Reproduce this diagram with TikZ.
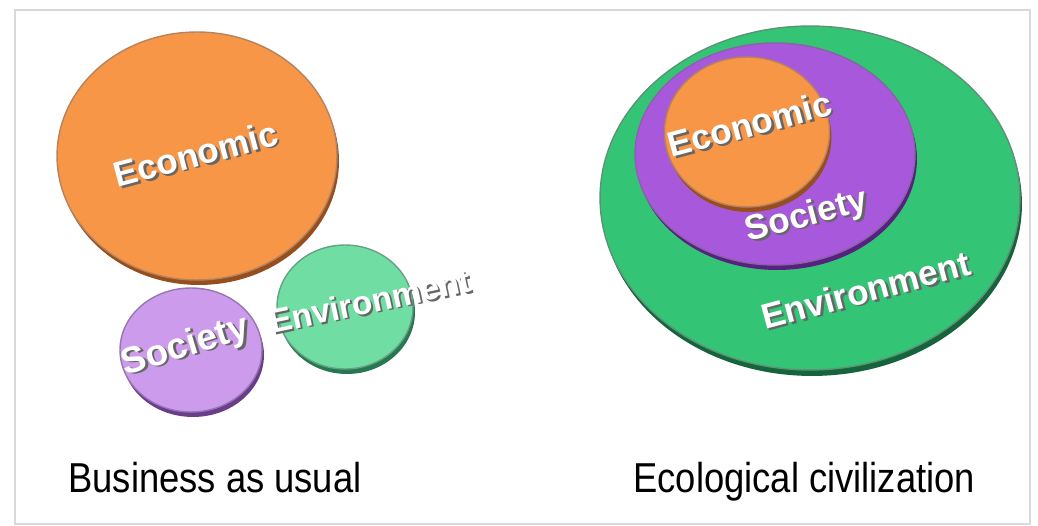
\documentclass[tikz,border=0pt]{standalone}
\usepackage{fontspec}
\setmainfont{Liberation Sans}
\usetikzlibrary{shapes.geometric}
\definecolor{orangeface}{RGB}{247,150,70}
\definecolor{orangerim}{RGB}{150,78,28}
\definecolor{lilacface}{RGB}{205,155,236}
\definecolor{lilacrim}{RGB}{105,60,140}
\definecolor{mintface}{RGB}{112,222,162}
\definecolor{mintrim}{RGB}{38,120,80}
\definecolor{greenface}{RGB}{52,196,118}
\definecolor{greenrim}{RGB}{22,100,60}
\definecolor{purpleface}{RGB}{168,88,218}
\definecolor{purplerim}{RGB}{88,32,128}
\newcommand{\shtext}[1]{\rlap{\hspace{1.2pt}\raisebox{-1.2pt}{\color{black!60}#1}}\textcolor{white}{#1}}
\tikzset{
  disc/.style={ellipse, inner sep=0pt, line width=0.8pt},
  rim/.style={ellipse, inner sep=0pt, fill=#1},
  tag/.style={font=\bfseries\fontsize{20}{24}\selectfont, inner sep=0pt, rotate=15},
  caption/.style={font=\fontsize{23.8}{28}\selectfont, inner sep=0pt, anchor=base west}
}

\begin{document}
\begin{tikzpicture}[x=0.02cm, y=-0.02cm]
\useasboundingbox (0,0) rectangle (1038,526);
\draw[gray!30, line width=1.2pt] (15,10) rectangle (1030,524);

% business as usual
\node[rim=orangerim, minimum width=5.6cm, minimum height=4.96cm] (econLrim) at (199,161) {};
\node[disc, fill=orangeface, draw=orangerim!70, minimum width=5.6cm, minimum height=4.96cm] (econL) at (197,156) {};
\node[rim=mintrim, minimum width=2.72cm, minimum height=2.48cm] (envLrim) at (347,312) {};
\node[disc, fill=mintface, draw=mintrim!70, minimum width=2.72cm, minimum height=2.48cm] (envL) at (345,307) {};
\node[rim=lilacrim, minimum width=2.84cm, minimum height=2.48cm] (socLrim) at (193,355) {};
\node[disc, fill=lilacface, draw=lilacrim!70, minimum width=2.84cm, minimum height=2.48cm] (socL) at (191,350) {};
\node[tag] (econLtxt) at (196,155) {\shtext{Economic}};
\node[tag, rotate=2, font=\bfseries\fontsize{21}{25}\selectfont] (socLtxt) at (186,348) {\shtext{Society}};
\node[tag, rotate=-3, font=\bfseries\fontsize{19}{23}\selectfont] (envLtxt) at (370,302) {\shtext{Environment}};
\node[caption] (bau) at (68,493) {\scalebox{0.87}[1]{Business as usual}};

% ecological civilization
\node[rim=greenrim, minimum width=8.4cm, minimum height=6.88cm] (envRrim) at (812,204) {};
\node[disc, fill=greenface, draw=greenrim!70, minimum width=8.4cm, minimum height=6.88cm] (envR) at (810,198) {};
\node[rim=purplerim, minimum width=5.6cm, minimum height=4.44cm] (socRrim) at (777,159) {};
\node[disc, fill=purpleface, draw=purplerim!70, minimum width=5.6cm, minimum height=4.44cm] (socR) at (775,154) {};
\node[rim=orangerim, minimum width=3.3cm, minimum height=3cm] (econRrim) at (749,137) {};
\node[disc, fill=orangeface, draw=orangerim!70, minimum width=3.3cm, minimum height=3cm] (econR) at (747,132) {};
\node[tag] (econRtxt) at (750,125) {\shtext{Economic}};
\node[tag] (socRtxt) at (807,218) {\shtext{Society}};
\node[tag] (envRtxt) at (866,291) {\shtext{Environment}};
\node[caption] (eco) at (633,493) {\scalebox{0.87}[1]{Ecological civilization}};
\end{tikzpicture}
\end{document}
